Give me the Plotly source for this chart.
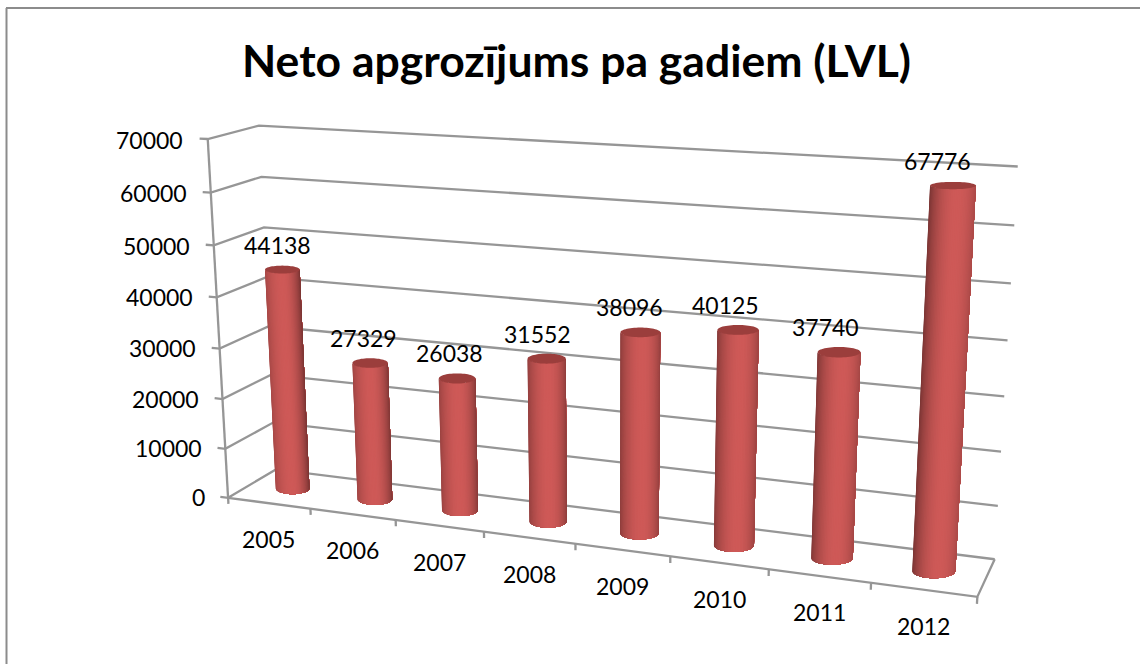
import numpy as np
import plotly.graph_objects as go

# ---- data ----
years = ["2005", "2006", "2007", "2008", "2009", "2010", "2011", "2012"]
turnover = [44138, 27329, 26038, 31552, 38096, 40125, 37740, 67776]
value_ticks = [0, 10000, 20000, 30000, 40000, 50000, 60000, 70000]
title_text = "Neto apgrozījums pa gadiem (LVL)"
value_max = 70000

# ---- perspective of the drawing: box corners (u, v, w) and where they sit on the page ----
box_anchor = [
    (0, 0, 0, 228, 498), (1, 0, 0, 977, 597), (1, 1, 0, 995, 559), (0, 1, 0, 276, 469),
    (0, 0, 1, 207, 139), (0, 1, 1, 259, 126), (1, 1, 1, 1018, 166),
    (0, 0, 6 / 7, 212, 192), (0, 1, 6 / 7, 261, 177), (1, 1, 6 / 7, 1014, 226),
    (1 / 8, 0, 0, 310, 509), (2 / 8, 0, 0, 396, 520),
]
rows, rhs = [], []
for u, v, w, px, py in box_anchor:
    rows.append([u, v, w, 1, 0, 0, 0, 0, -px * u, -px * v, -px * w])
    rhs.append(px)
    rows.append([0, 0, 0, 0, u, v, w, 1, -py * u, -py * v, -py * w])
    rhs.append(py)
sol = np.linalg.lstsq(np.array(rows, float), np.array(rhs, float), rcond=None)[0]
P = np.append(sol, 1.0).reshape(3, 4)


def project(u, v, w):
    u, v, w = np.asarray(u, float), np.asarray(v, float), np.asarray(w, float)
    d = P[2, 0] * u + P[2, 1] * v + P[2, 2] * w + P[2, 3]
    return ((P[0, 0] * u + P[0, 1] * v + P[0, 2] * w + P[0, 3]) / d,
            (P[1, 0] * u + P[1, 1] * v + P[1, 2] * w + P[1, 3]) / d)


GRID = "#969696"
FONT = "Lato, Carlito, Calibri, sans-serif"
fig = go.Figure()


def polyline(points, color=GRID, width=2.3):
    xs, ys = project(*np.array(points, float).T)
    fig.add_trace(go.Scatter(x=xs, y=ys, mode="lines", line=dict(color=color, width=width),
                             hoverinfo="skip", showlegend=False))


# walls and floor
for tick in value_ticks:
    w = tick / value_max
    polyline([(-0.012, 0, w), (0, 0, w), (0, 1, w), (1, 1, w)])
polyline([(0, 0, 0), (0, 0, 1)])
polyline([(0, 0, 0), (1, 0, 0), (1, 1, 0)])
for i in range(len(years) + 1):
    polyline([(i / len(years), 0, 0), (i / len(years), 0, -0.018)])

# cylinders
n_cat = len(years)
ru, rv = 0.026, 0.2
PEAK = np.array([0xcf, 0x5a, 0x58], float)
CAP = "#9b3e3c"
N = 40
annotations = []


def ellipse(uc, w):
    """Centre and half-axes of a bar's circular section as it appears on the page."""
    cx, cy = project(uc, 0.5, w)
    xl, _ = project(uc - ru, 0.5, w)
    xr, _ = project(uc + ru, 0.5, w)
    _, yf = project(uc, 0.5 - rv, w)
    _, yb = project(uc, 0.5 + rv, w)
    return float(cx), float(cy), float(xr - xl) / 2, float(yf - yb) / 2


for i, value in enumerate(turnover):
    uc = (i + 0.5) / n_cat
    w = value / value_max
    f = i / (n_cat - 1)
    left_edge, right_edge = 0.80 - 0.22 * f, 0.58 + 0.24 * f
    t_peak = 0.50 + 0.10 * f
    bx, by, ba, bb = ellipse(uc, 0)
    tx, ty, ta, tb = ellipse(uc, w)
    thetas = np.linspace(0, np.pi, N + 1)   # left edge -> front -> right edge
    for k in range(N):
        a = thetas[k]
        t = (1 - np.cos(a + np.pi / (2 * N))) / 2
        if t < t_peak:
            s = left_edge + (1 - left_edge) * np.sin(t / t_peak * np.pi / 2) ** 0.7
        else:
            s = right_edge + (1 - right_edge) * np.cos((t - t_peak) / (1 - t_peak) * np.pi / 2) ** 0.7
        c = PEAK * s
        col = f"rgb({int(c[0])},{int(c[1])},{int(c[2])})"
        # each band runs on to the right edge; the next one paints over it, so no seams show
        seg = np.linspace(a, np.pi, max(N - k, 2) + 1)
        xs = np.concatenate([bx - ba * np.cos(seg), tx - ta * np.cos(seg[::-1])])
        ys = np.concatenate([by + bb * np.sin(seg), ty + tb * np.sin(seg[::-1])])
        fig.add_trace(go.Scatter(x=xs, y=ys, mode="none", fill="toself", fillcolor=col,
                                 hoverinfo="skip", showlegend=False))
    ring = np.linspace(0, 2 * np.pi, 61)
    fig.add_trace(go.Scatter(x=tx + ta * np.cos(ring), y=ty + tb * np.sin(ring), mode="none",
                             fill="toself", fillcolor=CAP, hoverinfo="skip", showlegend=False))
    # data label above the bar
    annotations.append(dict(x=tx, y=ty, text=str(value), showarrow=False,
                            xshift=-(5 + 10 * f), yshift=25, xanchor="center", yanchor="middle",
                            font=dict(family=FONT, size=23, color="#000000")))
    # category label under the floor
    cx, cy = project(uc, 0, 0)
    annotations.append(dict(x=float(cx), y=float(cy), text=years[i], showarrow=False,
                            yshift=-36, xanchor="center", yanchor="middle",
                            font=dict(family=FONT, size=23, color="#000000")))

for tick in value_ticks:
    tx, ty = project(-0.033, 0, tick / value_max)
    annotations.append(dict(x=float(tx), y=float(ty), text=str(tick), showarrow=False,
                            xanchor="right", yanchor="middle", yshift=-2,
                            font=dict(family=FONT, size=23, color="#000000")))

annotations.append(dict(x=576, y=59, text=f"<b>{title_text}</b>", showarrow=False,
                        xanchor="center", yanchor="middle",
                        font=dict(family=FONT, size=44.5, color="#000000")))

fig.update_layout(
    width=1140, height=664, margin=dict(l=0, r=0, t=0, b=0),
    paper_bgcolor="#ffffff", plot_bgcolor="#ffffff", showlegend=False,
    xaxis=dict(range=[0, 1140], visible=False, fixedrange=True),
    yaxis=dict(range=[664, 0], visible=False, fixedrange=True),
    annotations=annotations,
    shapes=[
        dict(type="line", xref="x", yref="y", x0=6, y0=8, x1=1140, y1=8, line=dict(color="#8c8c8c", width=2)),
        dict(type="line", xref="x", yref="y", x0=6.5, y0=8, x1=6.5, y1=664, line=dict(color="#8c8c8c", width=2)),
    ],
)
fig.write_html("out.html", config=dict(displayModeBar=False),
               post_script="document.body.style.margin='0';document.documentElement.style.overflow='hidden';")
